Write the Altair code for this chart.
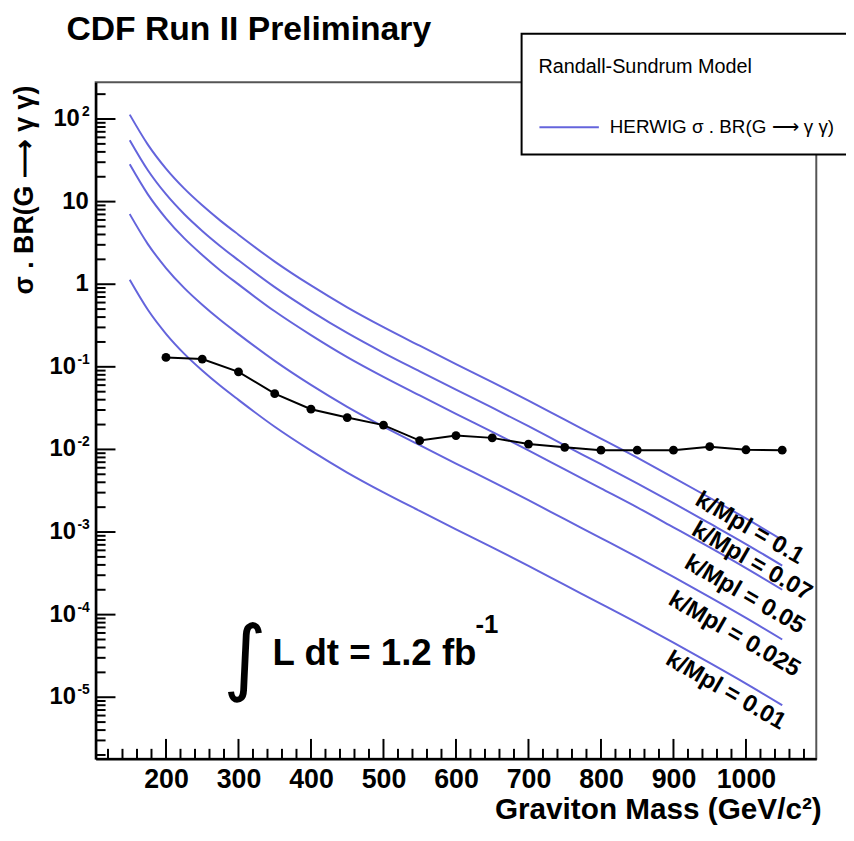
import altair as alt
import pandas as pd

# ---------------- data ----------------
mass_curve = [150, 175, 200, 225, 250, 275, 300, 350, 400, 450, 500, 550, 600,
              650, 700, 750, 800, 850, 900, 950, 1000, 1050]
xsec_k010 = [113, 49.0, 25.1, 14.45, 9.02, 5.89, 3.98, 1.88, 0.966, 0.525, 0.302, 0.180,
             0.108, 0.0653, 0.0389, 0.0229, 0.0135, 0.00794, 0.00457, 0.0026, 0.00146, 0.0008]
xsec_k007 = [55.4, 24.0, 12.3, 7.08, 4.42, 2.89, 1.95, 0.921, 0.473, 0.257, 0.148, 0.0882,
             0.0529, 0.032, 0.0191, 0.0112, 0.00662, 0.00389, 0.00224, 0.00127, 0.000715, 0.000392]
xsec_k005 = [28.3, 12.25, 6.28, 3.61, 2.26, 1.47, 0.995, 0.47, 0.242, 0.131, 0.0755, 0.045,
             0.027, 0.0163, 0.00973, 0.00573, 0.00338, 0.00199, 0.00114, 0.00065, 0.000365, 0.0002]
xsec_k0025 = [7.06, 3.06, 1.57, 0.903, 0.564, 0.368, 0.249, 0.118, 0.0604, 0.0328, 0.0189, 0.0113,
              0.00675, 0.00408, 0.00243, 0.00143, 0.000844, 0.000496, 0.000286, 0.000163, 0.0000913, 0.00005]
xsec_k001 = [1.13, 0.49, 0.251, 0.1445, 0.0902, 0.0589, 0.0398, 0.0188, 0.00966, 0.00525, 0.00302, 0.0018,
             0.00108, 0.000653, 0.000389, 0.000229, 0.000135, 0.0000794, 0.0000457, 0.000026, 0.0000146, 0.000008]
curve_names = ["k/Mpl = 0.1", "k/Mpl = 0.07", "k/Mpl = 0.05", "k/Mpl = 0.025", "k/Mpl = 0.01"]
curve_values = [xsec_k010, xsec_k007, xsec_k005, xsec_k0025, xsec_k001]

mass_obs = [200, 250, 300, 350, 400, 450, 500, 550, 600, 650, 700, 750, 800, 850, 900, 950, 1000, 1050]
limit_obs = [0.130, 0.124, 0.0869, 0.0473, 0.0307, 0.0243, 0.0197, 0.0128, 0.0147, 0.0138,
             0.0116, 0.0106, 0.0098, 0.0098, 0.0098, 0.0108, 0.0099, 0.0098]

# curve label anchor positions (data coordinates)
label_mass = [1005, 1008, 998, 984, 972]
label_xsec = [0.00111, 0.00044, 0.000175, 0.0000578, 0.000012]

# axis tick values / labels
x_major = [200, 300, 400, 500, 600, 700, 800, 900, 1000]
x_minor = [m for m in range(120, 1097, 20) if m % 100 != 0]
y_exp = [2, 1, 0, -1, -2, -3, -4, -5]
y_base = ["10", "10", "1", "10", "10", "10", "10", "10"]
y_sup = ["2", "", "", "-1", "-2", "-3", "-4", "-5"]
y_major = [10.0 ** e for e in y_exp]
y_minor = [k * 10.0 ** n for n in range(-6, 3) for k in range(2, 10) if 1.8e-6 <= k * 10.0 ** n <= 279]

# luminosity annotation positions (data coordinates)
lumi_int = {"M": [309], "s": [2.8e-5], "t": ["\u222b"]}
lumi_txt = {"M": [347], "s": [3.3e-5], "t": ["L dt = 1.2 fb"]}
lumi_sup = {"M": [627], "s": [7.4e-5], "t": ["-1"]}

legend_label = "HERWIG \u03c3 . BR(G \u27f6 \u03b3 \u03b3)"
y_title = "\u03c3 . BR(G \u27f6 \u03b3 \u03b3)"

# ---------------- chart ----------------
BLUE = "#6464dc"
FONT = "Liberation Sans"
W, H = 727.5, 683

rows = []
for name, vals in zip(curve_names, curve_values):
    for m, v in zip(mass_curve, vals):
        rows.append({"M": m, "s": v, "k": name, "lg": legend_label})
df_curves = pd.DataFrame(rows)
df_obs = pd.DataFrame({"M": mass_obs, "s": limit_obs})
df_lab = pd.DataFrame({"M": label_mass, "s": label_xsec, "t": curve_names})
df_ylab = pd.DataFrame({"s": y_major, "base": y_base, "sup": y_sup, "e": y_exp})

xs = alt.Scale(domain=[103, 1097], nice=False, zero=False)
ys = alt.Scale(type="log", domain=[1.8e-6, 279], nice=False)

X = alt.X("M:Q", scale=xs, axis=alt.Axis(
    values=x_major, format="d", ticks=False, grid=False, domainColor="black", domainWidth=2.5,
    labelFont=FONT, labelFontSize=27, labelFontWeight="bold", labelColor="black",
    labelPadding=8, labelOverlap=False, labelFlush=False,
    title="Graviton Mass (GeV/c\u00b2)", titleFont=FONT, titleFontSize=30, titleFontWeight="bold",
    titleColor="black", titleAnchor="end", titleAlign="right", titleBaseline="alphabetic",
    titleX=W + 5, titleY=60))
Y = alt.Y("s:Q", scale=ys, axis=alt.Axis(
    labels=False, ticks=False, grid=False, domainColor="black", domainWidth=2.5,
    title=y_title, titleFont=FONT, titleFontSize=27, titleFontWeight="bold",
    titleColor="black", titleAngle=270, titleAlign="right", titleBaseline="middle",
    titleX=-72, titleY=3))

curves = alt.Chart(df_curves).mark_line(strokeWidth=2, interpolate="monotone").encode(
    x=X, y=Y, detail="k:N",
    color=alt.Color("lg:N", scale=alt.Scale(range=[BLUE]), legend=alt.Legend(
        orient="none", legendX=430, legendY=-49,
        title=["", "Randall-Sundrum Model"], titleFont=FONT, titleFontSize=20,
        titleFontWeight="normal", titleColor="black", titleLineHeight=6.5, titlePadding=20,
        titleLimit=400, labelFont=FONT, labelFontSize=19, labelColor="black", labelLimit=400,
        labelOffset=10, symbolType="stroke", symbolSize=3600, symbolStrokeWidth=2,
        padding=17, strokeColor="black", fillColor="white", cornerRadius=0)))

obs = alt.Chart(df_obs).mark_line(color="black", strokeWidth=2,
                                  point=alt.OverlayMarkDef(filled=True, color="black", size=80)).encode(x=X, y=Y)

labels = alt.Chart(df_lab).mark_text(angle=30, font=FONT, fontSize=24, fontWeight="bold",
                                     color="black", align="center", baseline="middle").encode(
    x=X, y=Y, text="t:N")

lumi1 = alt.Chart(pd.DataFrame(lumi_int)).mark_text(font="DejaVu Sans", fontSize=84, color="black",
                                                    align="center", baseline="middle").encode(x=X, y=Y, text="t:N")
lumi2 = alt.Chart(pd.DataFrame(lumi_txt)).mark_text(font=FONT, fontSize=37, fontWeight="bold", color="black",
                                                    align="left", baseline="middle").encode(x=X, y=Y, text="t:N")
lumi3 = alt.Chart(pd.DataFrame(lumi_sup)).mark_text(font=FONT, fontSize=26, fontWeight="bold", color="black",
                                                    align="left", baseline="middle").encode(x=X, y=Y, text="t:N")

xt_major = alt.Chart(pd.DataFrame({"M": x_major})).mark_rule(color="black", strokeWidth=2).encode(
    x=X, y=alt.value(H), y2=alt.value(H - 20))
xt_minor = alt.Chart(pd.DataFrame({"M": x_minor})).mark_rule(color="black", strokeWidth=2).encode(
    x=X, y=alt.value(H), y2=alt.value(H - 10))
yt_major = alt.Chart(pd.DataFrame({"s": y_major})).mark_rule(color="black", strokeWidth=2).encode(
    y=Y, x=alt.value(0), x2=alt.value(20))
yt_minor = alt.Chart(pd.DataFrame({"s": y_minor})).mark_rule(color="black", strokeWidth=2).encode(
    y=Y, x=alt.value(0), x2=alt.value(10))

ylab_common = dict(font=FONT, fontSize=24, fontWeight="bold", color="black", align="right", baseline="middle")
ylab_plain = alt.Chart(df_ylab).transform_filter("datum.sup == ''").mark_text(**ylab_common).encode(
    y=Y, x=alt.value(-7), text="base:N")
ylab_pos = alt.Chart(df_ylab).transform_filter("datum.e > 1").mark_text(dx=-9, **ylab_common).encode(
    y=Y, x=alt.value(-7), text="base:N")
ylab_neg = alt.Chart(df_ylab).transform_filter("datum.e < 0").mark_text(dx=-13, **ylab_common).encode(
    y=Y, x=alt.value(-7), text="base:N")
ylab_sup = alt.Chart(df_ylab).transform_filter("datum.sup != ''").mark_text(
    font=FONT, fontSize=14, fontWeight="bold", color="black", align="right", baseline="middle", dy=-7).encode(
    y=Y, x=alt.value(-6), text="sup:N")

title = alt.Chart(pd.DataFrame({"t": ["CDF Run II Preliminary"]})).mark_text(
    font=FONT, fontSize=34, fontWeight="bold", color="black", align="left", baseline="top").encode(
    x=alt.value(-29.5), y=alt.value(-70), text="t:N")

chart = alt.layer(
    curves, obs, labels, lumi1, lumi2, lumi3,
    xt_major, xt_minor, yt_major, yt_minor,
    ylab_plain, ylab_pos, ylab_neg, ylab_sup, title
).properties(
    width=W, height=H,
    padding={"left": 88.5, "top": 71, "right": 30, "bottom": 66},
    autosize=alt.AutoSizeParams(type="none"),
    background="white",
).configure_view(stroke="#555555", strokeWidth=2).configure_legend(strokeWidth=2)

chart.save("out.html", embed_options={"renderer": "svg", "actions": False})
